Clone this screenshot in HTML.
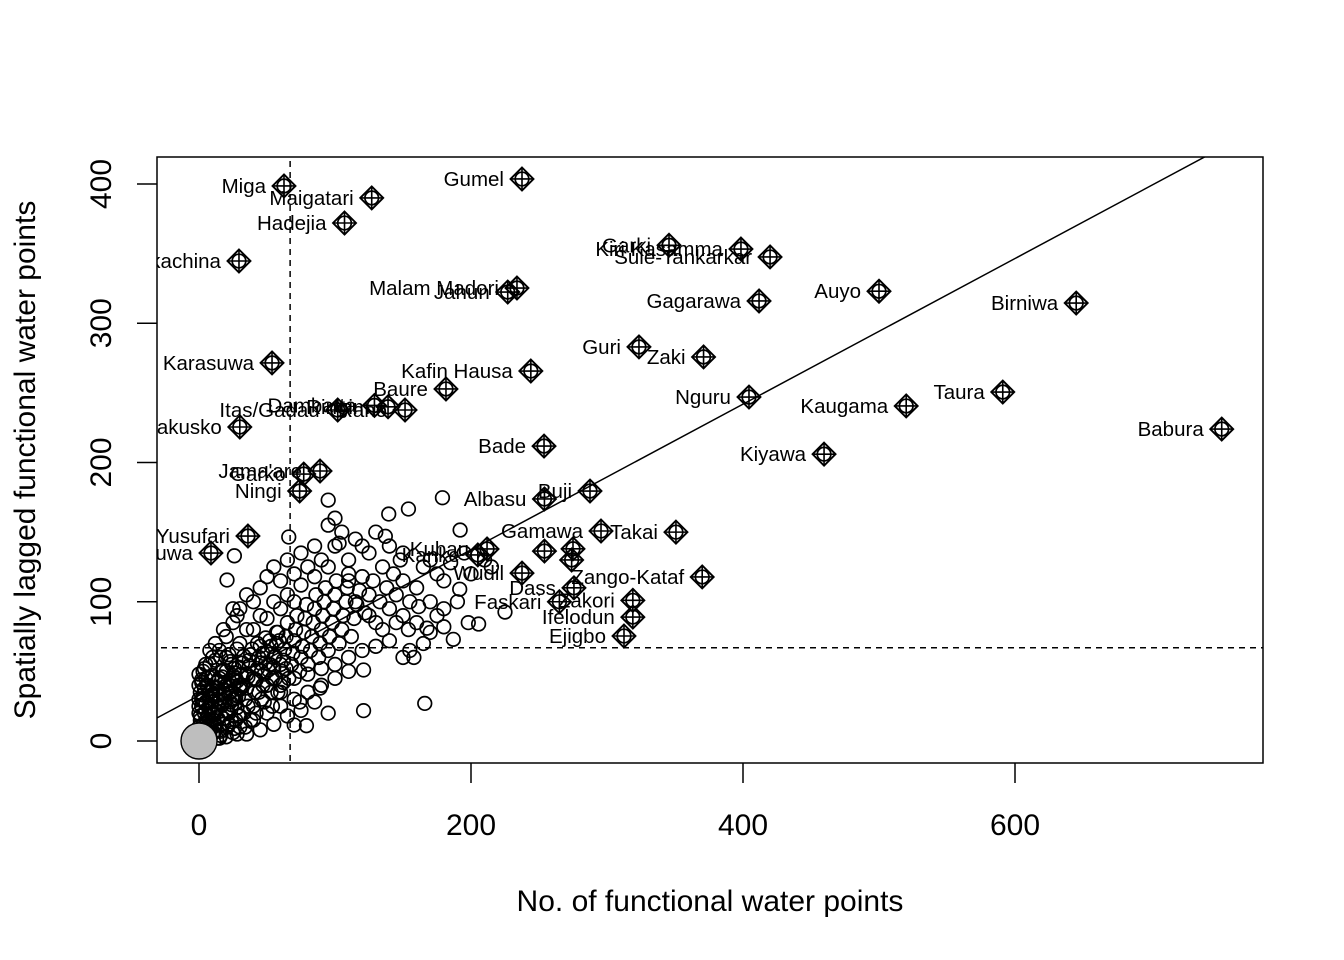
<!DOCTYPE html>
<html><head><meta charset="utf-8"><style>
html,body{margin:0;padding:0;background:#fff}
svg{display:block;font-family:"Liberation Sans",Arial,sans-serif}
</style></head><body>
<svg id="chart" width="1344" height="960" viewBox="0 0 1344 960" xmlns="http://www.w3.org/2000/svg">
<defs><clipPath id="plotclip"><rect x="157" y="157" width="1106" height="606"/></clipPath></defs>
<rect x="0" y="0" width="1344" height="960" fill="#fff"/>
<g id="plotarea" clip-path="url(#plotclip)"></g>
<rect x="157" y="157" width="1106" height="606" fill="none" stroke="#000" stroke-width="1.5"/>
<g id="axes"></g>
<text x="710" y="911" font-size="30" text-anchor="middle">No. of functional water points</text>
<text x="0" y="0" font-size="30" text-anchor="middle" transform="translate(35,460) rotate(-90)">Spatially lagged functional water points</text>
</svg>
<script>
const xTicks=[0,200,400,600];
const yTicks=[0,100,200,300,400];
const meanX=67, meanY=67;
const slope=0.523, intercept=32.7;
const ptX=[2,3,4,5,1,6,2,8,7,9,10,4,6,11,12,13,14,15,5,8,10,12,15,16,17,18,19,20,21,22,23,24,25,26,27,28,29,30,31,32,33,34,35,36,37,38,40,41,42,43,44,45,46,47,48,49,50,52,53,54,55,56,57,58,60,61,62,63,64,65,66,68,69,70,71,72,74,75,76,77,78,79,80,82,83,84,85,86,88,89,90,91,92,93,95,96,98,99,100,101,103,105,106,108,109,110,112,114,116,118,120,122,125,128,130,133,135,138,140,143,145,148,150,155,160,165,170,175,180,185,190,195,200,210,215,
20,25,30,35,40,45,50,55,60,65,70,75,80,85,90,100,105,110,115,120,125,130,140,150,95,100,103,110,25,15,10,5,3,8,12,18,28,35,45,55,65,75,85,95,115,125,135,145,20,30,40,50,60,70,
30,40,50,60,70,80,90,100,110,35,45,55,65,75,85,20,25,15,60,70,80,90,100,110,120,130,140,155,165,150,160,170,180,170,180,175,
0,0,0,0,1,2,3,4,5,7,9,11,13,14,16,18,20,22,24,26,28,30,32,34,36,38,40,42,44,46,48,50,52,54,56,58,60,62,64,
95,139.5,154,179,192,137,66,26,20.6,166,121,95,79,70,187,205.6,225,191.7,167.6,158,150,121,89,74,161.5,154,198,
0,1,2,3,4,5,6,7,8,9,10,11,12,13,14,15,16,17,18,19,20,21,22,23,24,25,26,27,28,29,30,0,2,4,6,8,10,12,14,16,18,20,22,24,26,28,3,5,7,9,11,13,15,17,19,21,23,25,27,29,31,33,35,37,39,41,43,45,47,49,51,53,55,57,59];
const ptY=[5,12,20,28,35,40,42,10,18,25,32,3,8,15,22,30,38,45,15,35,5,12,8,18,26,34,42,50,10,20,28,36,44,52,15,24,32,40,48,56,20,30,38,46,54,62,25,35,44,52,60,68,30,40,48,56,64,72,35,45,53,61,70,78,40,50,58,66,75,85,45,55,63,72,80,90,50,60,68,78,88,98,55,65,75,85,95,105,60,70,80,90,100,110,65,75,85,95,105,115,70,80,90,100,110,120,75,88,98,108,118,92,105,115,85,100,125,110,95,120,105,130,115,100,110,125,130,120,115,128,100,135,120,130,125,
75,85,95,105,100,110,118,125,115,130,120,135,125,140,130,140,150,130,145,140,135,150,140,135,155,160,142,115,95,65,60,55,50,65,70,80,90,80,90,100,105,112,118,125,100,90,80,85,60,70,80,88,95,100,
10,15,20,25,30,35,40,45,50,5,8,12,18,22,28,3,6,2,35,45,48,52,55,60,65,68,72,65,70,90,85,78,82,100,95,90,
10,20,30,40,15,25,33,8,45,2,14,6,2,16,4,12,22,34,14,30,5,18,40,10,25,15,45,20,35,50,28,40,55,25,45,35,55,42,52,
173,163,166.6,174.7,151.5,147,146.5,133,115.6,27,21.8,20,11,11.5,73,84,92.6,109,81,60,60,51,38,28,96.5,80,85,
25,18,30,8,38,22,14,46,6,28,36,19,11,42,24,33,7,50,16,29,40,21,12,35,26,47,9,31,43,18,37,48,44,52,39,55,47,58,43,60,51,36,62,55,49,66,30,27,24,33,20,38,28,46,34,41,57,30,45,53,38,61,48,58,66,44,70,56,63,74,51,68,60,78,72];
const infNames=["Miga","Maigatari","Gumel","Hadejia","Kankachina","Karasuwa","Makusko","Malam Madori","Jahun","Kafin Hausa","Baure","Itas/Gadau","Dambatta","Ringim","Rano","Bade","Jama'are","Garko","Ningi","Yusufari","Bursuwa","Albasu","Buji","Gamawa","Takai","Kubau","Kanke","Gaya","Zaria","Tofa","Wudil","Zango-Kataf","Dass","Zakori","Faskari","Ifelodun","Ejigbo","Garki","Kiri Kasamma","Sule-Tankarkar","Gagarawa","Auyo","Birniwa","Guri","Zaki","Nguru","Kaugama","Taura","Babura","Kiyawa"];
const infX=[62.5,127,237.5,107,29.4,53.7,30,233.8,227,244,181.6,102,129,139,151.5,253.7,89,77,74,36,8.8,254,287.5,295.6,350.7,211.8,205,254,275,274,237.5,370,275.7,319,265,319,312.5,345.6,398.5,419.9,411.8,500,645,323.5,371,404.4,520,591,752,459.6];
const infY=[398.6,390,403.6,372,344.7,271.5,225.5,325.3,322.4,265.7,252.8,237.7,241,240,237.7,211.8,193.9,191.7,179.5,147.2,135,173.8,179.5,150.8,150,137.9,133.6,136.4,138,130,120.6,117.8,110,101,100,89,75.4,356,353.3,347.6,316,323,314.5,283,275.8,247,240.6,250.6,224,206];
const labelShow=[1,1,1,1,1,1,1,1,1,1,1,1,1,1,1,1,1,1,1,1,1,1,1,1,1,1,1,0,0,0,1,1,1,1,1,1,1,1,1,1,1,1,1,1,1,1,1,1,1,1];

const NS="http://www.w3.org/2000/svg";
const sx=v=>199+v*1.36;
const sy=v=>741-v*1.3925;
const pa=document.getElementById('plotarea');
const ax=document.getElementById('axes');
function mk(tag,attrs,parent){const e=document.createElementNS(NS,tag);for(const k in attrs)e.setAttribute(k,attrs[k]);parent.appendChild(e);return e;}

let l=mk('line',{x1:sx(-40),y1:sy(intercept+slope*-40),x2:sx(800),y2:sy(intercept+slope*800),stroke:'#000','stroke-width':1.5},pa);


let vx=mk('line',{x1:sx(meanX),y1:150,x2:sx(meanX),y2:770,stroke:'#000','stroke-width':1.5,'stroke-dasharray':'6,5'},pa);


let hy=mk('line',{x1:150,y1:sy(meanY),x2:1270,y2:sy(meanY),stroke:'#000','stroke-width':1.5,'stroke-dasharray':'6,5'},pa);



for(let i=0;i<ptX.length;i++){
  const c=mk('circle',{cx:sx(ptX[i]),cy:sy(ptY[i]),r:6.8,fill:'none',stroke:'#000','stroke-width':1.7},pa);
  
  
}
const big=mk('circle',{cx:sx(0),cy:sy(0),r:18,fill:'#bebebe',stroke:'#000','stroke-width':1.4},pa);



for(let i=0;i<infX.length;i++){
  const x=sx(infX[i]),y=sy(infY[i]);
  const g=mk('g',{},pa);
  
  
  mk('circle',{cx:x,cy:y,r:6.8,fill:'none',stroke:'#000','stroke-width':1.7},g);
  const d=11.5;
  mk('polygon',{points:`${x},${y-d} ${x+d},${y} ${x},${y+d} ${x-d},${y}`,fill:'none',stroke:'#000','stroke-width':1.9},g);
  mk('path',{d:`M${x-d} ${y}H${x+d}M${x} ${y-d}V${y+d}`,stroke:'#000','stroke-width':1.6},g);
  if(labelShow[i]){
    const t=mk('text',{x:x-18,y:y+7,'font-size':20.5,'text-anchor':'end'},pa);
    t.textContent=infNames[i];
    
    
  }
}

xTicks.forEach(v=>{
  const tk=mk('line',{x1:sx(v),y1:763,x2:sx(v),y2:783,stroke:'#000','stroke-width':1.5},ax);
  
  
  const t=mk('text',{x:sx(v),y:835,'font-size':30,'text-anchor':'middle'},ax);
  t.textContent=v;
  
  
});
yTicks.forEach(v=>{
  const tk=mk('line',{x1:137,y1:sy(v),x2:157,y2:sy(v),stroke:'#000','stroke-width':1.5},ax);
  
  
  const t=mk('text',{x:0,y:0,'font-size':30,'text-anchor':'middle',transform:`translate(111,${sy(v)}) rotate(-90)`},ax);
  t.textContent=v;
  
  
});
</script>
</body></html>
